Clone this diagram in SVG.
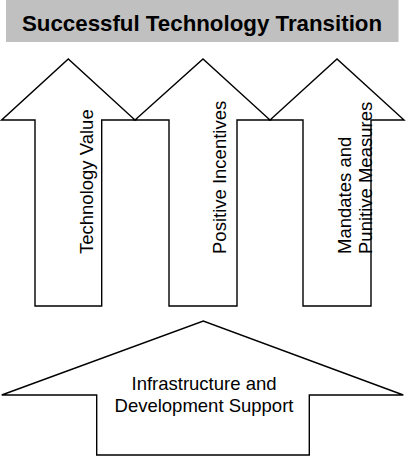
<svg xmlns="http://www.w3.org/2000/svg" width="409" height="456" viewBox="0 0 409 456">
<style>
.arrow{fill:#fff;stroke:#000;stroke-width:1.4;stroke-linejoin:miter}
.lbl{font-family:"Liberation Sans",Arial,sans-serif;font-size:18.5px;fill:#000}
.title{font-family:"Liberation Sans",Arial,sans-serif;font-size:22.3px;font-weight:bold;fill:#000}
</style>
<rect width="409" height="456" fill="#fff"/>
<g id="title">
<rect x="6" y="0" width="392.5" height="42" fill="#c0c0c0"/>
<text class="title" x="202" y="31" text-anchor="middle">Successful Technology Transition</text>
</g>
<g id="connectors"></g>
<g id="technology-value">
<polygon class="arrow" points="35,306 35,120 1.7,120 68.3,59 135,120 101.7,120 101.7,306"/>
<text class="lbl" transform="translate(93,254) rotate(-90)">Technology Value</text>
</g>
<g id="positive-incentives">
<polygon class="arrow" points="169,306 169,120 135,120 203,59 270,120 237,120 237,306"/>
<text class="lbl" transform="translate(226,254) rotate(-90)">Positive Incentives</text>
</g>
<g id="mandates">
<polygon class="arrow" points="303,306 303,120 270,120 337,59 404,120 371,120 371,306"/>
<text class="lbl" transform="translate(351,254) rotate(-90)">Mandates and</text>
<text class="lbl" transform="translate(372,254) rotate(-90)">Punitive Measures</text>
</g>
<g id="infrastructure">
<polygon class="arrow" points="96.7,455 96.7,395 1.7,395 203.3,321 403.3,395 309.3,395 309.3,455"/>
<text class="lbl" x="204" y="390" text-anchor="middle">Infrastructure and</text>
<text class="lbl" x="204" y="411.5" text-anchor="middle">Development Support</text>
</g>
</svg>
